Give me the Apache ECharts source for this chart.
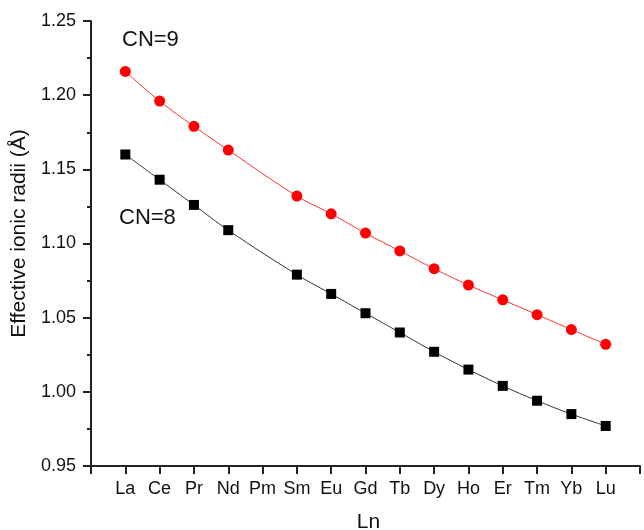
<!DOCTYPE html>
<html>
<head>
<meta charset="utf-8">
<script src="https://cdn.jsdelivr.net/npm/echarts@6/dist/echarts.min.js"></script>
<style>
  html, body { margin: 0; padding: 0; background: #fff; }
  #chart { width: 644px; height: 530px; }
</style>
</head>
<body>
<div id="chart"></div>
<script>
// lanthanide labels on x axis, position 1..15
var elements = ['La', 'Ce', 'Pr', 'Nd', 'Pm', 'Sm', 'Eu', 'Gd', 'Tb', 'Dy', 'Ho', 'Er', 'Tm', 'Yb', 'Lu']
// radii, Pm has no value
var cn8 = [1.160, 1.143, 1.126, 1.109, null, 1.079, 1.066, 1.053, 1.040, 1.027, 1.015, 1.004, 0.994, 0.985, 0.977]
var cn9 = [1.216, 1.196, 1.179, 1.163, null, 1.132, 1.120, 1.107, 1.095, 1.083, 1.072, 1.062, 1.052, 1.042, 1.032]
var yTicks = [0.95, 1.00, 1.05, 1.10, 1.15, 1.20, 1.25]

function pairs (vals) {
    return vals.map(function (v, i) { return [i + 1, v] })
}

var chart = echarts.init(document.getElementById('chart'))
var font = 'Liberation Sans, Arial, sans-serif'
var axisColor = '#222'

var option = {
    animation: false,
    grid: {
        left: 91,
        right: 4,
        top: 21,
        bottom: 64,
        outerBoundsMode: 'none'
    },
    xAxis: {
        type: 'value',
        min: 0,
        max: 16,
        interval: 1,
        name: 'Ln',
        nameLocation: 'middle',
        nameGap: 46,
        nameTextStyle: { fontFamily: font, fontSize: 21, color: '#111', padding: [0, 0, 0, 6] },
        axisLine: { lineStyle: { color: axisColor, width: 2 } },
        axisTick: { show: true, inside: false, length: 8, lineStyle: { color: axisColor, width: 2 } },
        axisLabel: {
            fontFamily: font,
            fontSize: 18,
            color: '#111',
            margin: 14,
            formatter: function (v) { return elements[v - 1] || '' }
        },
        splitLine: { show: false }
    },
    yAxis: {
        type: 'value',
        min: yTicks[0],
        max: yTicks[yTicks.length - 1],
        interval: 0.05,
        name: 'Effective ionic radii (Å)',
        nameLocation: 'middle',
        nameGap: 52,
        nameTextStyle: { fontFamily: font, fontSize: 21, color: '#111', padding: [0, 0, 0, 20] },
        axisLine: { show: true, lineStyle: { color: axisColor, width: 2 } },
        axisTick: { show: true, inside: false, length: 8, lineStyle: { color: axisColor, width: 2 } },
        minorTick: { show: true, splitNumber: 2, length: 4, lineStyle: { color: axisColor, width: 2 } },
        axisLabel: {
            fontFamily: font,
            fontSize: 18,
            color: '#111',
            margin: 15,
            formatter: function (v) { return v.toFixed(2) }
        },
        splitLine: { show: false }
    },
    graphic: [
        { type: 'text', left: 122, top: 29, style: { text: 'CN=9', fontFamily: font, fontSize: 22, fill: '#111' } },
        { type: 'text', left: 119, top: 207, style: { text: 'CN=8', fontFamily: font, fontSize: 22, fill: '#111' } }
    ],
    series: [
        {
            name: 'CN=9',
            type: 'line',
            data: pairs(cn9),
            smooth: 0.4,
            connectNulls: true,
            symbol: 'circle',
            symbolSize: 11,
            itemStyle: { color: '#ff0000' },
            lineStyle: { color: '#ff3030', width: 1 }
        },
        {
            name: 'CN=8',
            type: 'line',
            data: pairs(cn8),
            smooth: 0.4,
            connectNulls: true,
            symbol: 'rect',
            symbolSize: 10,
            itemStyle: { color: '#000' },
            lineStyle: { color: '#333', width: 1 }
        }
    ]
}

chart.setOption(option)
</script>
</body>
</html>
